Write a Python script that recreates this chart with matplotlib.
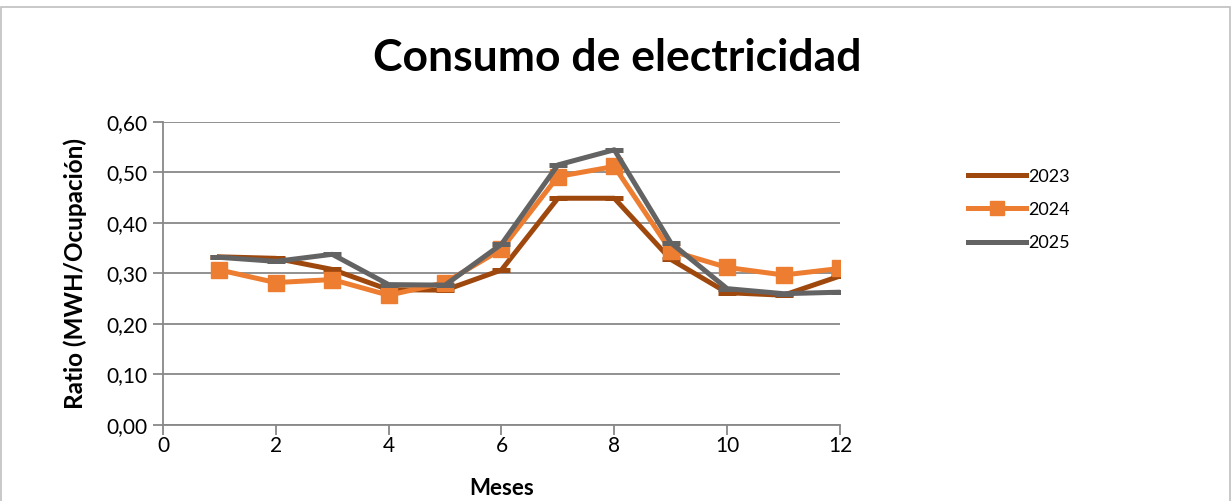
import numpy as np
import matplotlib.pyplot as plt
from matplotlib.patches import Rectangle

plt.rcParams['font.family'] = ['Lato', 'DejaVu Sans']

# Datos
meses = [1, 2, 3, 4, 5, 6, 7, 8, 9, 10, 11, 12]
r2023 = [0.333, 0.330, 0.308, 0.268, 0.267, 0.307, 0.449, 0.449, 0.328, 0.262, 0.257, 0.295]
r2024 = [0.307, 0.282, 0.288, 0.257, 0.282, 0.348, 0.492, 0.512, 0.345, 0.312, 0.297, 0.310]
r2025 = [0.332, 0.324, 0.338, 0.278, 0.277, 0.358, 0.515, 0.545, 0.361, 0.270, 0.260, 0.263]
y_ticks = [0.0, 0.1, 0.2, 0.3, 0.4, 0.5, 0.6]
x_ticks = [0, 2, 4, 6, 8, 10, 12]

fig = plt.figure(figsize=(12.32, 5.01), dpi=100)
ax = fig.add_axes([0.1323, 0.1517, 0.5495, 0.6048])

# Marco de la figura
fig.patches.append(Rectangle((0.001, -0.01), 0.997, 0.996, transform=fig.transFigure,
                             fill=False, edgecolor='#bfbfbf', linewidth=1.2))

ax.plot(meses, r2023, color='#9E480E', lw=3.6, marker='_', ms=13, mew=3.6, label='2023')
ax.plot(meses, r2024, color='#ED7D31', lw=3.6, marker='s', ms=12, label='2024')
ax.plot(meses, r2025, color='#636363', lw=3.6, marker='_', ms=13, mew=3.6, label='2025')

ax.set_xlim(0, 12)
ax.set_ylim(0, 0.6)
ax.set_xticks(x_ticks)
ax.set_yticks(y_ticks)
ax.set_yticklabels([f'{v:.2f}'.replace('.', ',') for v in y_ticks])
ax.tick_params(axis='both', labelsize=15, length=7, color='#888888', width=1.3)
ax.tick_params(axis='y', pad=4)
ax.tick_params(axis='x', pad=1)

ax.grid(axis='y', color='#888888', linewidth=1.3)
ax.set_axisbelow(True)
for s in ['top', 'right']:
    ax.spines[s].set_visible(False)
for s in ['left', 'bottom']:
    ax.spines[s].set_color('#888888')
    ax.spines[s].set_linewidth(1.3)

fig.text(0.501, 0.884, 'Consumo de electricidad', fontsize=32, fontweight='bold',
         ha='center', va='center')
ax.set_xlabel('Meses', fontsize=16, fontweight='bold', labelpad=16)
ax.set_ylabel('Ratio (MWH/Ocupación)', fontsize=17.5, fontweight='bold', labelpad=14)

ax.legend(loc='upper left', bbox_to_anchor=(1.165, 0.9), frameon=False, fontsize=13,
          handlelength=3.2, labelspacing=0.95, handletextpad=0.15, markerscale=0.8)

fig.savefig('out.png', dpi=100)
